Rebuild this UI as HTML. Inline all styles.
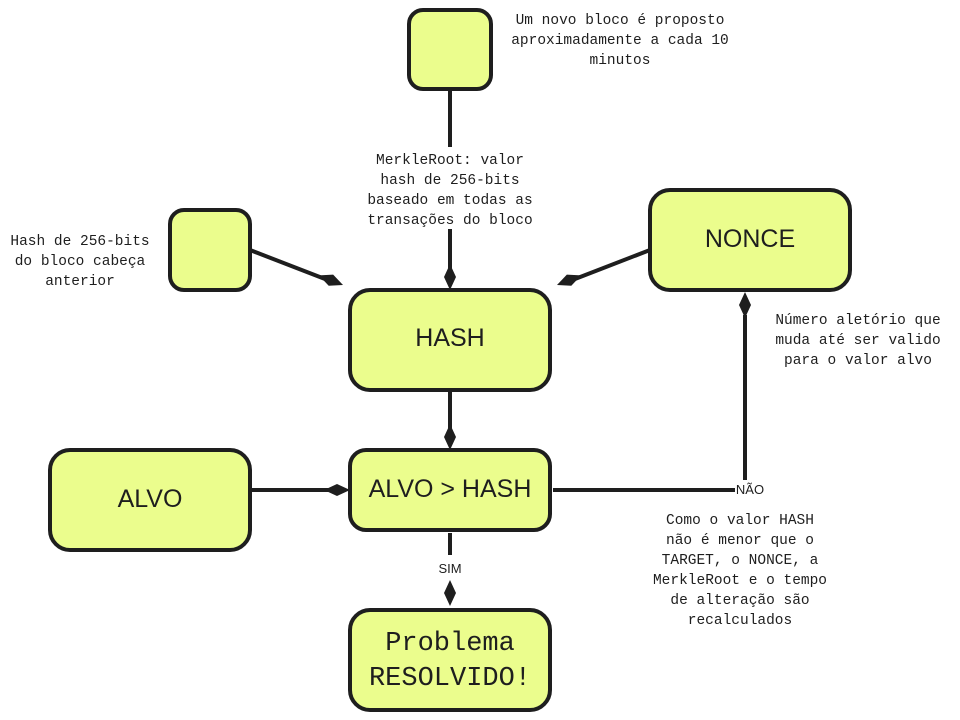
<!DOCTYPE html>
<html><head><meta charset="utf-8"><style>
html,body{margin:0;padding:0;background:#fff;}
svg{display:block;}
.a{font-family:"Liberation Mono",monospace;font-size:14.5px;fill:#1e1e1e;text-anchor:middle;}
.b{font-family:"Liberation Sans",sans-serif;font-size:25px;fill:#1e1e1e;text-anchor:middle;}
.m{font-family:"Liberation Mono",monospace;font-size:27px;fill:#1e1e1e;text-anchor:middle;}
</style></head><body>
<svg width="960" height="720" viewBox="0 0 960 720" xmlns="http://www.w3.org/2000/svg">
<g stroke="#1e1e1e" stroke-width="4" fill="none">
<line x1="450" y1="89" x2="450" y2="270"/>
<line x1="250" y1="250" x2="325" y2="279"/>
<line x1="650" y1="250" x2="575" y2="279"/>
<line x1="745" y1="315" x2="745" y2="480"/>
<line x1="553" y1="490" x2="735" y2="490"/>
<line x1="450" y1="390" x2="450" y2="430"/>
<line x1="250" y1="490" x2="330" y2="490"/>
<line x1="450" y1="533" x2="450" y2="555"/>
</g>
<g fill="#ebfd8d" stroke="#1e1e1e" stroke-width="4">
<rect x="409" y="10" width="82" height="79" rx="14"/>
<rect x="170" y="210" width="80" height="80" rx="14"/>
<rect x="650" y="190" width="200" height="100" rx="20"/>
<rect x="350" y="290" width="200" height="100" rx="20"/>
<rect x="50" y="450" width="200" height="100" rx="20"/>
<rect x="350" y="450" width="200" height="80" rx="16"/>
<rect x="350" y="610" width="200" height="100" rx="20"/>
</g>
<g fill="#1e1e1e">
<polygon points="450,264 456,277 450,290 444,277"/>
<polygon points="-26,0 -13,-6 0,0 -13,6" transform="translate(343,285) rotate(21.8)"/>
<polygon points="-26,0 -13,-6 0,0 -13,6" transform="translate(557,285) rotate(158.2)"/>
<polygon points="745,292 751,305 745,318 739,305"/>
<polygon points="450,424 456,437 450,450 444,437"/>
<polygon points="350,490 337,496 324,490 337,484"/>
<polygon points="450,580 456,593 450,606 444,593"/>
</g>
<rect x="365" y="147" width="170" height="82" fill="#fff"/>
<rect x="436" y="558" width="28" height="20" fill="#fff"/>
<text class="a"><tspan x="620" y="24">Um novo bloco é proposto</tspan><tspan x="620" y="44">aproximadamente a cada 10</tspan><tspan x="620" y="64">minutos</tspan></text>
<text class="a"><tspan x="450" y="164">MerkleRoot: valor</tspan><tspan x="450" y="184">hash de 256-bits</tspan><tspan x="450" y="204">baseado em todas as</tspan><tspan x="450" y="224">transações do bloco</tspan></text>
<text class="a"><tspan x="80" y="245">Hash de 256-bits</tspan><tspan x="80" y="265">do bloco cabeça</tspan><tspan x="80" y="285">anterior</tspan></text>
<text class="a"><tspan x="858" y="324">Número aletório que</tspan><tspan x="858" y="344">muda até ser valido</tspan><tspan x="858" y="364">para o valor alvo</tspan></text>
<text class="a"><tspan x="740" y="524">Como o valor HASH</tspan><tspan x="740" y="544">não é menor que o</tspan><tspan x="740" y="564">TARGET, o NONCE, a</tspan><tspan x="740" y="584">MerkleRoot e o tempo</tspan><tspan x="740" y="604">de alteração são</tspan><tspan x="740" y="624">recalculados</tspan></text>
<text x="750" y="494" font-family="Liberation Sans,sans-serif" font-size="13" fill="#1e1e1e" text-anchor="middle">NÃO</text>
<text x="450" y="573" font-family="Liberation Sans,sans-serif" font-size="13" fill="#1e1e1e" text-anchor="middle">SIM</text>
<text class="b" x="750" y="247">NONCE</text>
<text class="b" x="450" y="346">HASH</text>
<text class="b" x="150" y="507">ALVO</text>
<text class="b" x="450" y="497">ALVO &gt; HASH</text>
<text class="m" x="450" y="650">Problema</text>
<text class="m" x="450" y="685">RESOLVIDO!</text>
</svg>
</body></html>
